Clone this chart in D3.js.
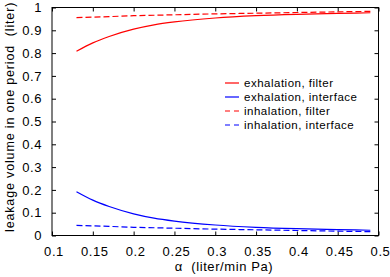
<!DOCTYPE html>
<html><head><meta charset="utf-8">
<script src="https://cdn.jsdelivr.net/npm/d3@7"></script>
<style>body{margin:0;background:#fff}svg{display:block;font-family:"Liberation Sans",Arial,sans-serif}</style>
</head><body><svg id="c" width="390" height="277"></svg>
<script>
const alphas = [0.13,0.15,0.17,0.2,0.225,0.25,0.3,0.35,0.4,0.45,0.49];
const exhFilter = [0.808,0.845,0.873,0.905,0.924,0.937,0.954,0.964,0.970,0.974,0.977];
const exhInterface = [0.192,0.155,0.127,0.095,0.076,0.063,0.046,0.036,0.030,0.026,0.023];
const inhFilter = [0.956,0.958,0.960,0.964,0.966,0.968,0.972,0.975,0.978,0.981,0.983];
const inhInterface = [0.044,0.042,0.040,0.036,0.034,0.032,0.028,0.025,0.022,0.019,0.017];
const xTicks = [0.1,0.15,0.2,0.25,0.3,0.35,0.4,0.45,0.5];
const yTicks = [0,0.1,0.2,0.3,0.4,0.5,0.6,0.7,0.8,0.9,1];
const seriesNames = ["exhalation, filter","exhalation, interface","inhalation, filter","inhalation, interface"];
const seriesColors = ["#ff0000","#0000ff","#ff0000","#0000ff"];
const seriesDashed = [false,false,true,true];
const seriesValues = [exhFilter,exhInterface,inhFilter,inhInterface];

const svg = d3.select("#c");
const L=52,R=378.5,T=7.5,B=235.5;
const x = d3.scaleLinear().domain([0.1,0.5]).range([L,R]);
const y = d3.scaleLinear().domain([0,1]).range([B,T]);
const fmt = d => d3.format("")(+d.toFixed(2));

const tl = 4;
const ax = g => g.selectAll("path").remove();
const styleText = g => g.selectAll("text").attr("font-size",13).attr("letter-spacing","0.6px")
  .attr("fill","#000").attr("font-family","Liberation Sans, Arial, sans-serif");
svg.append("g").attr("transform",`translate(0,${B})`)
  .call(d3.axisBottom(x).tickValues(xTicks).tickSize(-tl).tickPadding(11).tickFormat(fmt))
  .call(ax).call(styleText).call(g=>g.selectAll("text").attr("dx","1.5"));
svg.append("g").attr("transform",`translate(0,${T})`)
  .call(d3.axisTop(x).tickValues(xTicks).tickSize(-tl).tickFormat(""))
  .call(ax);
svg.append("g").attr("transform",`translate(${L},0)`)
  .call(d3.axisLeft(y).tickValues(yTicks).tickSize(-tl).tickPadding(10).tickFormat(fmt))
  .call(ax).call(styleText);
svg.append("g").attr("transform",`translate(${R},0)`)
  .call(d3.axisRight(y).tickValues(yTicks).tickSize(-tl).tickFormat(""))
  .call(ax);
svg.selectAll(".tick line").attr("stroke","#000");
svg.append("rect").attr("x",L).attr("y",T).attr("width",R-L).attr("height",B-T)
  .attr("fill","none").attr("stroke","#000").attr("stroke-width",1);

const line = d3.line().x((d,i)=>x(alphas[i])).y(d=>y(d)).curve(d3.curveMonotoneX);
seriesValues.forEach((vals,k)=>{
  svg.append("path").datum(vals).attr("d",line).attr("fill","none")
    .attr("stroke",seriesColors[k]).attr("stroke-width",1.2)
    .attr("stroke-dasharray",seriesDashed[k]?"6,3":null);
});

const lg = svg.append("g");
seriesNames.forEach((n,k)=>{
  const yy = 83 + k*14;
  lg.append("line").attr("x1",225).attr("x2",239).attr("y1",yy).attr("y2",yy)
    .attr("stroke",seriesColors[k]).attr("stroke-width",1.2)
    .attr("stroke-dasharray",seriesDashed[k]?"5,4":null);
  lg.append("text").attr("x",244).attr("y",yy+4).attr("font-size",11.5)
    .attr("letter-spacing","0.5px").text(n);
});

svg.append("text").attr("x",224).attr("y",271).attr("text-anchor","middle").attr("font-size",13)
  .attr("letter-spacing","0.6px").attr("xml:space","preserve")
  .text("α  (liter/min Pa)");
svg.append("text").attr("transform",`translate(13.5,232) rotate(-90)`)
  .attr("text-anchor","start").attr("font-size",12.5).attr("letter-spacing","0.85px").attr("xml:space","preserve")
  .text("leakage volume in one period  (liter)");
</script></body></html>
